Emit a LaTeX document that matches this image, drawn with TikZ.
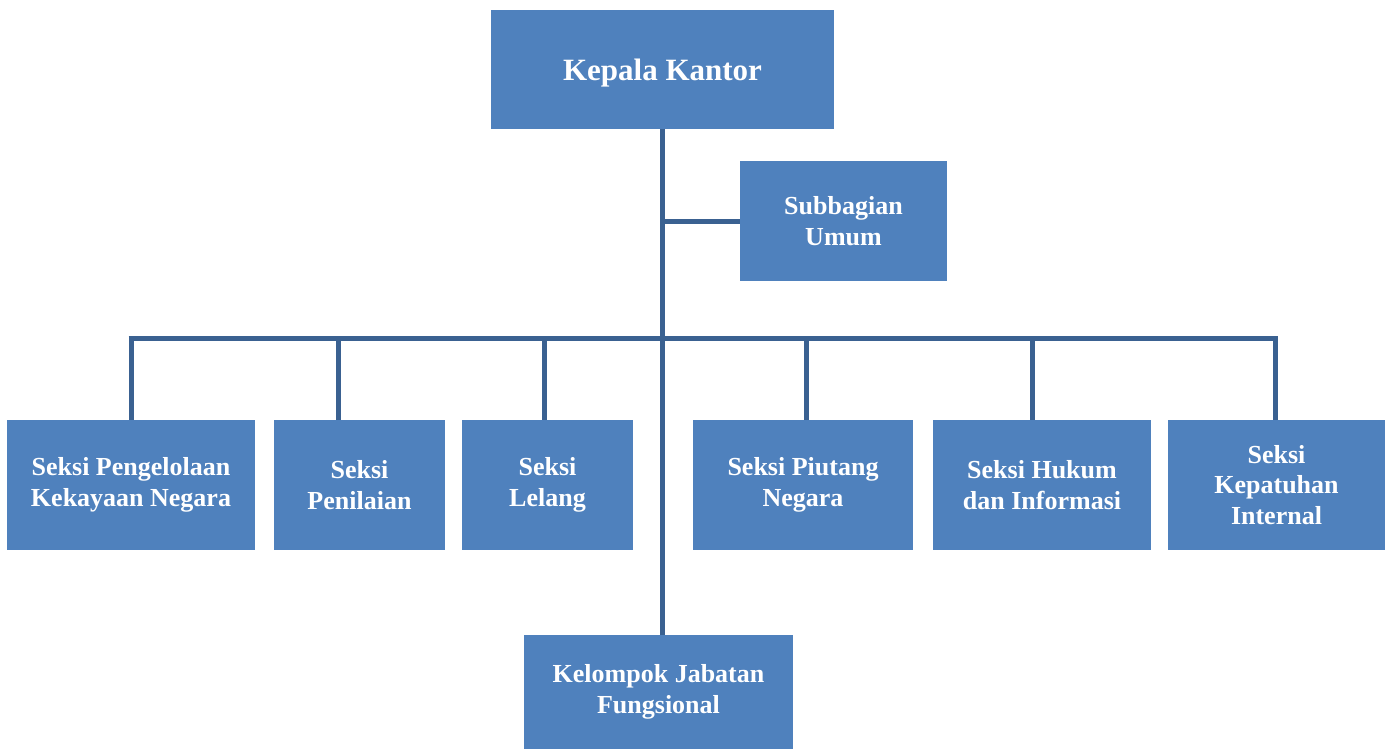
\documentclass[tikz,border=0pt]{standalone}
\usepackage{fontspec}
\setmainfont{Liberation Serif}
\begin{document}
\begin{tikzpicture}[x=1pt,y=-1pt,
  unit/.style={fill=unitblue,text=white,inner sep=0pt,align=center,
    font=\bfseries\fontsize{26}{30.5}\selectfont},
  link/.style={draw=linkblue,line width=5pt}]
  \definecolor{unitblue}{HTML}{4F81BD}
  \definecolor{linkblue}{HTML}{3A6191}
  \useasboundingbox (0,0) rectangle (1391,749);
  % top
  \node[unit,minimum width=343pt,minimum height=119pt,text depth=0pt,
    font=\bfseries\fontsize{31}{36}\selectfont] (kk) at (662.5,69.5) {Kepala Kantor};
  \node[unit,minimum width=207pt,minimum height=120pt] (su) at (843.5,221) {Subbagian\\Umum};
  % seksi
  \node[unit,minimum width=248pt,minimum height=130pt] (s1) at (131,485) {Seksi Pengelolaan\\Kekayaan Negara};
  \node[unit,minimum width=171pt,minimum height=130pt] (s2) at (359.5,485) {Seksi\\Penilaian};
  \node[unit,minimum width=171pt,minimum height=130pt] (s3) at (547.5,485) {Seksi\\Lelang};
  \node[unit,minimum width=220pt,minimum height=130pt] (s4) at (803,485) {Seksi Piutang\\Negara};
  \node[unit,minimum width=218pt,minimum height=130pt] (s5) at (1042,485) {Seksi Hukum\\dan Informasi};
  \node[unit,minimum width=217pt,minimum height=130pt] (s6) at (1276.5,485) {Seksi\\Kepatuhan\\Internal};
  \node[unit,minimum width=269pt,minimum height=114pt] (kjf) at (658.5,692) {Kelompok Jabatan\\Fungsional};
  % bus
  \coordinate (b1) at (131,338);
  \coordinate (b2) at (338,338);
  \coordinate (b3) at (544,338);
  \coordinate (b4) at (806,338);
  \coordinate (b5) at (1032,338);
  \coordinate (b6) at (1275,338);
  \draw[link] (kk.south -| 662,0) -- (kjf.north -| 662,0);
  \draw[link] (662,0 |- su.west) -- (su.west);
  \draw[link] ([xshift=-2.5pt]b1) -- ([xshift=2.5pt]b6);
  \foreach \i in {1,...,6}
    \draw[link] ([yshift=-2.5pt]b\i) -- (b\i |- s\i.north);
\end{tikzpicture}
\end{document}
